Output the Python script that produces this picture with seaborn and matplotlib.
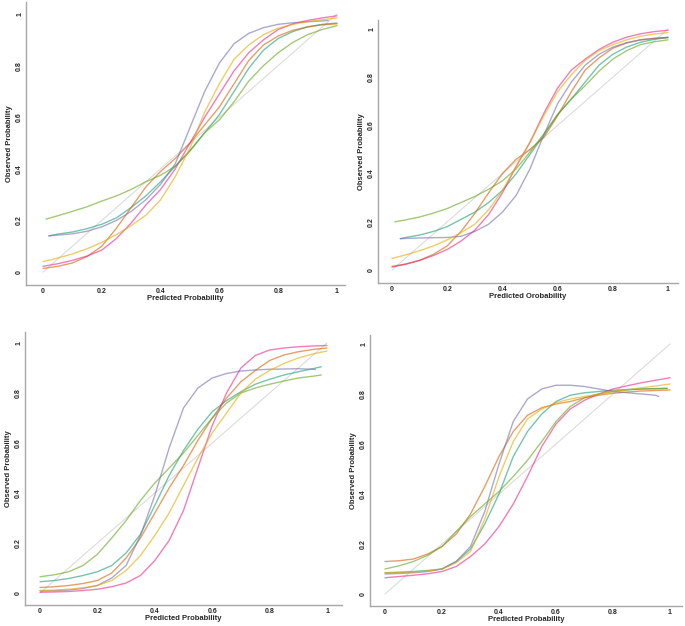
import pandas as pd
import matplotlib
matplotlib.use("Agg")
import matplotlib.pyplot as plt
import seaborn as sns
from matplotlib.ticker import MultipleLocator

# common x grid the curves were read on (first/last point can be overridden per curve)
grid = [0, 0.05, 0.1, 0.15, 0.2, 0.25, 0.3, 0.35, 0.4, 0.45, 0.5,
        0.55, 0.6, 0.65, 0.7, 0.75, 0.8, 0.85, 0.9, 0.95, 1.0]
models = ["teal", "orange", "purple", "pink", "green", "yellow"]
tick_vals = [0, 0.2, 0.4, 0.6, 0.8, 1]
tick_labels = ["0", "0.2", "0.4", "0.6", "0.8", "1"]

# panel 1 (top left)
p1_teal = [0.14, 0.147, 0.155, 0.168, 0.185, 0.21, 0.25, 0.295, 0.35, 0.41, 0.47, 0.54, 0.61, 0.70, 0.79, 0.86, 0.905, 0.932, 0.95, 0.96, 0.965]
p1_orange = [0.014, 0.022, 0.035, 0.06, 0.10, 0.17, 0.25, 0.33, 0.39, 0.44, 0.50, 0.57, 0.64, 0.73, 0.82, 0.88, 0.915, 0.937, 0.95, 0.958, 0.962]
p1_purple = [0.14, 0.143, 0.148, 0.158, 0.175, 0.20, 0.235, 0.28, 0.34, 0.42, 0.56, 0.70, 0.81, 0.885, 0.925, 0.947, 0.96, 0.966, 0.97, 0.973, 0.975]
p1_pink = [0.022, 0.032, 0.045, 0.062, 0.085, 0.13, 0.19, 0.26, 0.32, 0.40, 0.50, 0.60, 0.69, 0.78, 0.85, 0.90, 0.94, 0.962, 0.975, 0.985, 0.993]
p1_green = [0.205, 0.218, 0.235, 0.253, 0.275, 0.295, 0.32, 0.35, 0.375, 0.41, 0.47, 0.54, 0.59, 0.66, 0.74, 0.80, 0.85, 0.89, 0.92, 0.94, 0.955]
p1_yellow = [0.04, 0.054, 0.07, 0.09, 0.115, 0.145, 0.18, 0.22, 0.28, 0.37, 0.48, 0.62, 0.73, 0.825, 0.88, 0.92, 0.945, 0.96, 0.97, 0.978, 0.985]
p1_start = {"teal": 0.02, "purple": 0.02, "green": 0.01}
p1_end = {"purple": 0.97}

# panel 2 (top right)
p2_teal = [0.13, 0.135, 0.145, 0.16, 0.18, 0.21, 0.24, 0.28, 0.33, 0.40, 0.48, 0.56, 0.645, 0.71, 0.78, 0.85, 0.895, 0.925, 0.945, 0.957, 0.965]
p2_orange = [0.015, 0.025, 0.04, 0.065, 0.10, 0.16, 0.235, 0.32, 0.40, 0.46, 0.50, 0.55, 0.64, 0.74, 0.83, 0.88, 0.92, 0.942, 0.955, 0.961, 0.965]
p2_purple = [0.13, 0.131, 0.133, 0.134, 0.135, 0.14, 0.16, 0.19, 0.24, 0.31, 0.42, 0.56, 0.69, 0.78, 0.85, 0.895, 0.925, 0.943, 0.955, 0.961, 0.965]
p2_pink = [0.012, 0.024, 0.04, 0.06, 0.085, 0.12, 0.165, 0.23, 0.32, 0.43, 0.53, 0.65, 0.755, 0.83, 0.875, 0.915, 0.945, 0.966, 0.98, 0.989, 0.995]
p2_green = [0.20, 0.208, 0.22, 0.236, 0.255, 0.28, 0.305, 0.335, 0.37, 0.42, 0.49, 0.565, 0.645, 0.71, 0.765, 0.825, 0.875, 0.91, 0.935, 0.947, 0.955]
p2_yellow = [0.048, 0.063, 0.08, 0.10, 0.125, 0.155, 0.19, 0.25, 0.33, 0.43, 0.53, 0.64, 0.74, 0.81, 0.87, 0.91, 0.935, 0.955, 0.97, 0.979, 0.985]
p2_start = {"teal": 0.03, "purple": 0.03, "green": 0.01}
p2_end = {}

# panel 3 (bottom left)
p3_teal = [0.045, 0.05, 0.058, 0.07, 0.085, 0.11, 0.16, 0.235, 0.35, 0.47, 0.57, 0.655, 0.725, 0.77, 0.805, 0.835, 0.855, 0.872, 0.885, 0.897, 0.905]
p3_orange = [0.022, 0.025, 0.03, 0.038, 0.05, 0.08, 0.14, 0.22, 0.32, 0.42, 0.51, 0.61, 0.70, 0.78, 0.845, 0.89, 0.93, 0.952, 0.965, 0.974, 0.98]
p3_purple = [0.008, 0.009, 0.012, 0.018, 0.03, 0.06, 0.11, 0.23, 0.39, 0.58, 0.74, 0.82, 0.86, 0.878, 0.888, 0.892, 0.895, 0.896, 0.897, 0.895, 0.894]
p3_pink = [0.003, 0.004, 0.006, 0.01, 0.015, 0.025, 0.04, 0.07, 0.13, 0.21, 0.33, 0.50, 0.67, 0.80, 0.90, 0.95, 0.972, 0.98, 0.985, 0.988, 0.99]
p3_green = [0.065, 0.073, 0.085, 0.11, 0.155, 0.22, 0.29, 0.37, 0.44, 0.50, 0.56, 0.63, 0.70, 0.76, 0.80, 0.82, 0.835, 0.848, 0.86, 0.867, 0.872]
p3_yellow = [0.01, 0.012, 0.015, 0.021, 0.03, 0.05, 0.09, 0.15, 0.23, 0.32, 0.43, 0.54, 0.64, 0.72, 0.80, 0.855, 0.89, 0.918, 0.94, 0.956, 0.968]
p3_start = {}
p3_end = {"teal": 0.98, "purple": 0.96, "green": 0.98}

# panel 4 (bottom right)
p4_teal = [0.085, 0.087, 0.09, 0.094, 0.10, 0.13, 0.18, 0.28, 0.40, 0.55, 0.65, 0.72, 0.77, 0.795, 0.805, 0.81, 0.815, 0.818, 0.82, 0.821, 0.822]
p4_orange = [0.13, 0.133, 0.14, 0.16, 0.19, 0.24, 0.32, 0.43, 0.55, 0.65, 0.715, 0.745, 0.76, 0.77, 0.785, 0.795, 0.803, 0.808, 0.812, 0.814, 0.816]
p4_purple = [0.08, 0.082, 0.085, 0.09, 0.10, 0.13, 0.19, 0.33, 0.52, 0.69, 0.78, 0.82, 0.835, 0.835, 0.83, 0.82, 0.81, 0.805, 0.80, 0.795, 0.79]
p4_pink = [0.065, 0.07, 0.075, 0.081, 0.09, 0.11, 0.15, 0.20, 0.27, 0.36, 0.47, 0.59, 0.68, 0.74, 0.775, 0.80, 0.82, 0.833, 0.845, 0.855, 0.865]
p4_green = [0.10, 0.113, 0.13, 0.155, 0.19, 0.25, 0.31, 0.36, 0.41, 0.47, 0.535, 0.61, 0.69, 0.75, 0.785, 0.80, 0.81, 0.816, 0.82, 0.822, 0.823]
p4_yellow = [0.085, 0.086, 0.088, 0.092, 0.10, 0.125, 0.17, 0.30, 0.47, 0.61, 0.70, 0.74, 0.765, 0.78, 0.79, 0.80, 0.81, 0.817, 0.825, 0.832, 0.84]
p4_start = {}
p4_end = {"teal": 0.99, "purple": 0.96, "green": 0.99}

panels = [
    ([p1_teal, p1_orange, p1_purple, p1_pink, p1_green, p1_yellow], p1_start, p1_end,
     "Predicted Probability", [26, 2, 345, 285], [43, 337, 272, 14]),
    ([p2_teal, p2_orange, p2_purple, p2_pink, p2_green, p2_yellow], p2_start, p2_end,
     "Predicted Orobability", [378, 20, 678, 283], [392, 668, 270, 29]),
    ([p3_teal, p3_orange, p3_purple, p3_pink, p3_green, p3_yellow], p3_start, p3_end,
     "Predicted Probability", [25, 332, 342, 605], [40, 327, 593, 343]),
    ([p4_teal, p4_orange, p4_purple, p4_pink, p4_green, p4_yellow], p4_start, p4_end,
     "Predicted Probability", [370, 335, 682, 606], [385, 670, 594, 344]),
]

sns.set_style("white")
plt.rcParams["font.family"] = ["Liberation Sans", "DejaVu Sans"]

W, H = 685, 626
fig = plt.figure(figsize=(W / 100, H / 100), dpi=100)
palette = dict(zip(models, sns.color_palette("Dark2", 6)))

for curves, start, end, xlab, box, cal in panels:
    l, t, r, b = box
    ax = fig.add_axes([l / W, 1 - b / H, (r - l) / W, (b - t) / H])
    x0, x1, y0, y1 = cal
    # axis limits from pixel calibration of the reference
    ax.set_xlim((l - x0) / (x1 - x0), (r - x0) / (x1 - x0))
    ax.set_ylim((y0 - b) / (y0 - y1), (y0 - t) / (y0 - y1))

    rows = []
    for name, ys in zip(models, curves):
        xs = list(grid)
        xs[0] = start.get(name, xs[0])
        xs[-1] = end.get(name, xs[-1])
        for xv, yv in zip(xs, ys):
            rows.append({"pred": xv, "obs": yv, "model": name})
    df = pd.DataFrame(rows)

    ax.plot([0, 1], [0, 1], color="#dcdcdc", lw=0.8, zorder=1)
    sns.lineplot(data=df, x="pred", y="obs", hue="model", palette=palette,
                 sort=False, estimator=None, lw=1.0, alpha=0.6, legend=False, ax=ax)

    ax.set_xticks(tick_vals)
    ax.set_xticklabels(tick_labels)
    ax.set_yticks(tick_vals)
    ax.set_yticklabels(tick_labels, rotation=90, va="center")
    ax.xaxis.set_minor_locator(MultipleLocator(0.1))
    ax.yaxis.set_minor_locator(MultipleLocator(0.1))
    ax.tick_params(which="both", direction="in", color="#b0b0b0", width=0.8,
                   labelsize=5, pad=2)
    ax.tick_params(which="major", length=3)
    ax.tick_params(which="minor", length=2)
    for lab in ax.get_xticklabels() + ax.get_yticklabels():
        lab.set_fontweight("bold")
    ax.set_xlabel(xlab, fontsize=5.5, fontweight="bold", labelpad=0.5)
    ax.set_ylabel("Observed Probability", fontsize=5.5, fontweight="bold", labelpad=2)
    for side in ["top", "right"]:
        ax.spines[side].set_visible(False)
    for side in ["left", "bottom"]:
        ax.spines[side].set_color("#a8a8a8")
        ax.spines[side].set_linewidth(1.0)

fig.savefig("out.png", dpi=100)
